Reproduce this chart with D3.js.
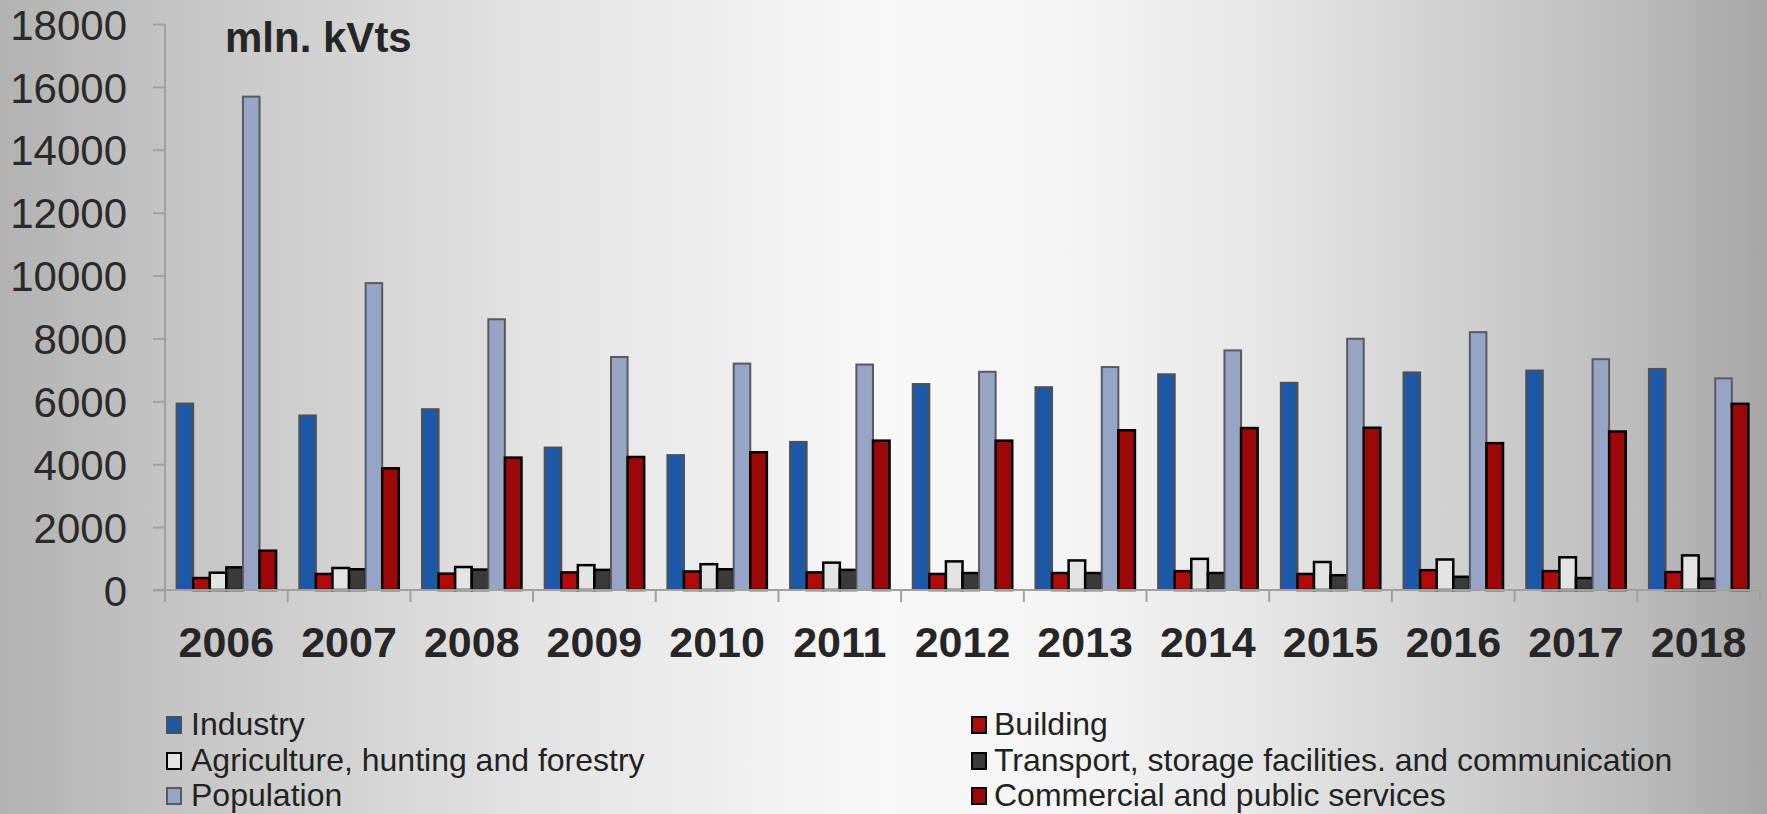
<!DOCTYPE html>
<html>
<head>
<meta charset="utf-8">
<script src="https://cdn.jsdelivr.net/npm/d3@7"></script>
<style>
  html, body { margin: 0; padding: 0; background: #d0d0d0; }
  svg { display: block; font-family: "Liberation Sans", Arial, Helvetica, sans-serif; }
</style>
</head>
<body>
<svg id="chart" width="1767" height="814"></svg>
<script>
// Electricity consumption by sector, mln. kWh
const years = ["2006","2007","2008","2009","2010","2011","2012","2013","2014","2015","2016","2017","2018"];
const industry    = [5930,5550,5750,4530,4290,4710,6550,6450,6860,6590,6920,6980,7030];
const building    = [380,510,520,560,590,560,510,540,600,510,630,600,570];
const agriculture = [550,700,730,790,820,870,910,940,990,890,970,1040,1100];
const transport   = [720,660,650,640,660,640,540,540,540,470,420,380,360];
const population  = [15690,9760,8610,7410,7200,7170,6940,7090,7620,7990,8200,7340,6730];
const commercial  = [1250,3870,4210,4230,4380,4750,4750,5080,5150,5160,4670,5040,5920];
const seriesNames = ["Industry","Building","Agriculture, hunting and forestry",
                     "Transport, storage facilities. and communication","Population",
                     "Commercial and public services"];
const yTicks = [0,2000,4000,6000,8000,10000,12000,14000,16000,18000];
const unitLabel = "mln. kVts";

const seriesValues = [industry, building, agriculture, transport, population, commercial];
const fills   = ["#1d58a6","#b00a0a","#e3e3e3","#3a3a3a","#96a4c5","#9c0808"];
const strokes = ["#505050","#000000","#000000","#000000","#5a5a5a","#000000"];
const strokeW = [2, 2.5, 2.5, 2.5, 2, 2.5];

const W = 1767, H = 814;
const svg = d3.select("#chart");

// background shading
const defs = svg.append("defs");
const bg = defs.append("linearGradient").attr("id","bg").attr("x1","0").attr("x2","1").attr("y1","0").attr("y2","0");
[[0,"#b2b2b2"],[0.09,"#c3c3c3"],[0.3,"#e3e3e3"],[0.5,"#f8f8f8"],[0.6,"#f5f5f5"],
 [0.71,"#e7e7e7"],[0.92,"#bdbdbd"],[1,"#a6a6a6"]].forEach(([o,c]) =>
  bg.append("stop").attr("offset", o).attr("stop-color", c));
svg.append("rect").attr("width", W).attr("height", H).attr("fill", "url(#bg)");

const plotL = 165, plotR = 1760, plotT = 24, plotB = 590;

const x0 = d3.scaleBand().domain(years).range([plotL, plotR])
  .paddingInner(1.4 / 7.4).paddingOuter(0.7 / 7.4);
const x1 = d3.scaleBand().domain(d3.range(seriesValues.length)).range([0, x0.bandwidth()]);
const y = d3.scaleLinear().domain([0, 18000]).range([plotB, plotT]);

// bars
const groups = svg.append("g").selectAll("g").data(years).join("g")
  .attr("transform", d => `translate(${x0(d)},0)`);
groups.selectAll("rect")
  .data((yr, i) => seriesValues.map((s, k) => ({k, v: s[i]})))
  .join("rect")
  .attr("x", d => x1(d.k))
  .attr("width", x1.bandwidth())
  .attr("y", d => y(d.v))
  .attr("height", d => y(0) - y(d.v))
  .attr("fill", d => fills[d.k])
  .attr("stroke", d => strokes[d.k])
  .attr("stroke-width", d => strokeW[d.k]);

// y axis
const yAxis = svg.append("g").attr("transform", `translate(${plotL},0)`)
  .call(d3.axisLeft(y).tickValues(yTicks).tickSize(12).tickPadding(26).tickFormat(d3.format("d")));
yAxis.select(".domain").attr("stroke", "#a0a0a0").attr("stroke-width", 2).attr("d", `M0,${plotT}V${plotB}`);
yAxis.selectAll(".tick line").attr("stroke", "#a0a0a0").attr("stroke-width", 2);
yAxis.selectAll(".tick text").attr("font-size", 42).attr("fill", "#2a2a2a").attr("dy", "0.36em")
  .attr("font-family", "Liberation Sans, Arial, sans-serif");

// x axis: baseline, boundary ticks, year labels
const xAxis = svg.append("g");
xAxis.append("line").attr("x1", plotL - 12).attr("x2", plotR).attr("y1", plotB).attr("y2", plotB)
  .attr("stroke", "#a0a0a0").attr("stroke-width", 2);
const bounds = years.map(d => x0(d) - x0.step() * x0.paddingOuter()).concat([plotR]);
xAxis.selectAll("line.b").data(bounds).join("line").attr("class","b")
  .attr("x1", d => d).attr("x2", d => d).attr("y1", plotB).attr("y2", plotB + 12)
  .attr("stroke", "#a0a0a0").attr("stroke-width", 2);
xAxis.selectAll("text.yl").data(years).join("text").attr("class","yl")
  .attr("x", d => x0(d) + x0.bandwidth() / 2).attr("y", 657)
  .attr("text-anchor", "middle").attr("font-size", 43).attr("font-weight", "bold")
  .attr("fill", "#262626").text(d => d);

// unit label
svg.append("text").attr("x", 225).attr("y", 52)
  .attr("font-size", 42).attr("font-weight", "bold").attr("fill", "#262626").text(unitLabel);

// legend
const legend = svg.append("g");
const markX = [167, 972], textX = [191, 994], rowY = [735, 771, 806];
seriesNames.forEach((name, k) => {
  const c = k % 2, r = Math.floor(k / 2);
  const g = legend.append("g");
  g.append("rect").attr("x", markX[c]).attr("y", rowY[r] - 18).attr("width", 14).attr("height", 16)
    .attr("fill", fills[k]).attr("stroke", strokes[k]).attr("stroke-width", 2);
  g.append("text").attr("x", textX[c]).attr("y", rowY[r])
    .attr("font-size", 32).attr("fill", "#222").text(name);
});
</script>
</body>
</html>
